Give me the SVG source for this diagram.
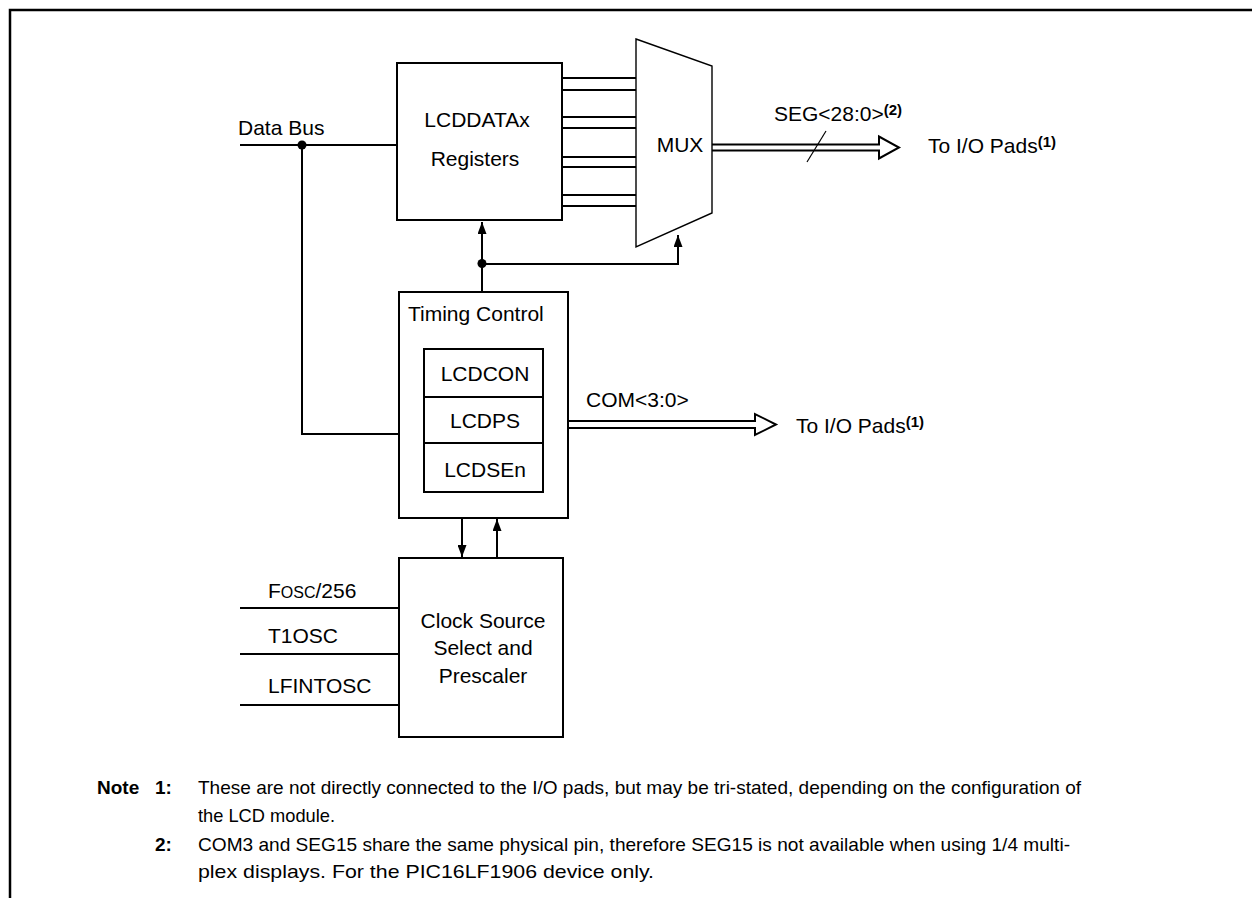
<svg xmlns="http://www.w3.org/2000/svg" width="1252" height="898" viewBox="0 0 1252 898">
<defs>
<style>
text{font-family:"Liberation Sans",Arial,sans-serif;fill:#000}
.lbl{font-size:21px}
.note{font-size:19px}
.b{font-weight:bold}
.sup{font-size:15px;font-weight:bold}
.box{fill:#fff;stroke:#000;stroke-width:2}
.ln{fill:none;stroke:#000;stroke-width:2}
.bus{fill:#fff;stroke:#000;stroke-width:2;stroke-linejoin:miter}
</style>
<marker id="arr" markerWidth="12" markerHeight="9" refX="12" refY="4.5" orient="auto" markerUnits="userSpaceOnUse">
<path d="M0,0 L12,4.5 L0,9 z" fill="#000"/>
</marker>
</defs>
<rect width="1252" height="898" fill="#fff"/>
<path d="M10,898 V10 H1252" fill="none" stroke="#000" stroke-width="2.5"/>

<g id="connectors">
<path class="ln" d="M240,145 H397"/>
<path class="ln" d="M302,145 V434 H399"/>
<circle cx="302" cy="145" r="4.5" fill="#000"/>
<path class="ln" d="M482,292 V222" marker-end="url(#arr)"/>
<path class="ln" d="M482,264 H678 V235" marker-end="url(#arr)"/>
<circle cx="482" cy="263.5" r="4.5" fill="#000"/>
<path class="ln" d="M562,78 H636 M562,90 H636 M562,117 H636 M562,128 H636 M562,157 H636 M562,167 H636 M562,195 H636 M562,206 H636"/>
<path class="ln" d="M462,518 V557" marker-end="url(#arr)"/>
<path class="ln" d="M497,558 V519" marker-end="url(#arr)"/>
<path class="ln" d="M240,608 H399 M240,654 H399 M240,705 H399"/>
<path class="bus" d="M712,144.5 H879 V136.5 L899,147.5 L879,158.5 V150.5 H712"/>
<path d="M807,162 L826,131" stroke="#000" stroke-width="1.2"/>
<path class="bus" d="M568,421 H755 V414 L776,424.5 L755,435 V428 H568"/>
</g>

<g id="lcddatax">
<rect class="box" x="397" y="63" width="165" height="157"/>
<text class="lbl" x="477" y="127" text-anchor="middle">LCDDATAx</text>
<text class="lbl" x="475" y="166" text-anchor="middle">Registers</text>
</g>

<g id="mux">
<path d="M636,39 L712,66 V213 L636,247 Z" fill="#fff" stroke="#000" stroke-width="1.4"/>
<text class="lbl" x="680" y="152" text-anchor="middle">MUX</text>
</g>

<g id="timing">
<rect class="box" x="399" y="292" width="169" height="226"/>
<text class="lbl" x="408" y="321">Timing Control</text>
<rect class="box" x="424" y="349" width="119" height="143"/>
<path class="ln" d="M424,397 H543 M424,443 H543"/>
<text class="lbl" x="485" y="381" text-anchor="middle">LCDCON</text>
<text class="lbl" x="485" y="428" text-anchor="middle">LCDPS</text>
<text class="lbl" x="485" y="477" text-anchor="middle">LCDSEn</text>
</g>

<g id="clock">
<rect class="box" x="399" y="558" width="164" height="179"/>
<text class="lbl" x="483" y="628" text-anchor="middle">Clock Source</text>
<text class="lbl" x="483" y="655" text-anchor="middle">Select and</text>
<text class="lbl" x="483" y="683" text-anchor="middle">Prescaler</text>
</g>

<g id="labels">
<text class="lbl" x="238" y="135">Data Bus</text>
<text class="lbl" x="774" y="121">SEG&lt;28:0&gt;<tspan class="sup" dy="-6">(2)</tspan></text>
<text class="lbl" x="928" y="153">To I/O Pads<tspan class="sup" dy="-6">(1)</tspan></text>
<text class="lbl" x="586" y="407">COM&lt;3:0&gt;</text>
<text class="lbl" x="796" y="433">To I/O Pads<tspan class="sup" dy="-6">(1)</tspan></text>
<text class="lbl" x="268" y="598">F<tspan font-size="16">OSC</tspan>/256</text>
<text class="lbl" x="268" y="643">T1OSC</text>
<text class="lbl" x="268" y="693">LFINTOSC</text>
</g>

<g id="notes">
<text class="note b" x="97" y="794">Note</text>
<text class="note b" x="155" y="794">1:</text>
<text class="note" x="198" y="794" textLength="883" lengthAdjust="spacingAndGlyphs">These are not directly connected to the I/O pads, but may be tri-stated, depending on the configuration of</text>
<text class="note" x="198" y="822" textLength="137" lengthAdjust="spacingAndGlyphs">the LCD module.</text>
<text class="note b" x="155" y="851">2:</text>
<text class="note" x="198" y="851" textLength="872" lengthAdjust="spacingAndGlyphs">COM3 and SEG15 share the same physical pin, therefore SEG15 is not available when using 1/4 multi-</text>
<text class="note" x="198" y="878" textLength="456" lengthAdjust="spacingAndGlyphs">plex displays. For the PIC16LF1906 device only.</text>
</g>
</svg>
